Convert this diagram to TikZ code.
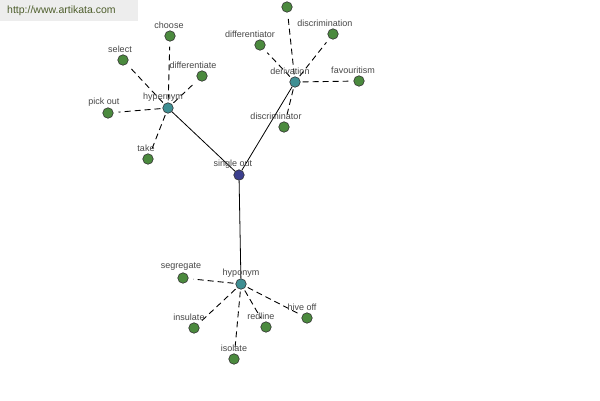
\documentclass[tikz,border=0pt]{standalone}
\usepackage{fontspec}
\setmainfont{Liberation Sans}
\begin{document}
\begin{tikzpicture}[x=1pt,y=-1pt,
  leaf/.style={circle,draw=black!80,fill=leafgreen,inner sep=0pt,minimum size=10.5pt,line width=0.6pt},
  hub/.style={circle,draw=black!80,fill=hubteal,inner sep=0pt,minimum size=10.5pt,line width=0.6pt},
  root/.style={circle,draw=black!80,fill=rootblue,inner sep=0pt,minimum size=10.5pt,line width=0.6pt},
  lbl/.style={font=\fontsize{9}{10}\selectfont,text=black!72,inner sep=0pt},
  dashlink/.style={dashed,dash pattern=on 6pt off 4pt,line width=0.9pt,shorten >=5pt,shorten <=2pt},
  solidlink/.style={line width=0.8pt}]
\definecolor{leafgreen}{HTML}{4B8A3E}
\definecolor{hubteal}{HTML}{3F8F93}
\definecolor{rootblue}{HTML}{3C3F8E}
\definecolor{urlgreen}{HTML}{4E5E2C}
\useasboundingbox (0,0) rectangle (600,400);
\fill[white] (0,0) rectangle (600,400);
\fill[black!7] (0,0) rectangle (138,21);
\node[font=\fontsize{10.5}{12}\selectfont,text=urlgreen,anchor=west,inner sep=0pt] (url) at (7,11) {http://www.artikata.com};
% hubs
\node[root] (single) at (239,175) {};
\node[hub] (hyper) at (168,108) {};
\node[hub] (deriv) at (295,82) {};
\node[hub] (hypo) at (241,284) {};
% leaves
\node[leaf] (choose) at (170,36) {};
\node[leaf] (select) at (123,60) {};
\node[leaf] (diffate) at (202,76) {};
\node[leaf] (pickout) at (108,113) {};
\node[leaf] (take) at (148,159) {};
\node[leaf] (top) at (287,7) {};
\node[leaf] (discrimination) at (333,34) {};
\node[leaf] (differentiator) at (260,45) {};
\node[leaf] (favour) at (359,81) {};
\node[leaf] (discriminator) at (284,127) {};
\node[leaf] (segregate) at (183,278) {};
\node[leaf] (insulate) at (194,328) {};
\node[leaf] (isolate) at (234,359) {};
\node[leaf] (redline) at (266,327) {};
\node[leaf] (hiveoff) at (307,318) {};
% links
\draw[solidlink] (hyper) -- (single);
\draw[solidlink] (deriv) -- (single);
\draw[solidlink] (single) -- (hypo);
\foreach \l in {choose,select,diffate,pickout,take}
  \draw[dashlink] (hyper) -- (\l);
\foreach \l in {top,discrimination,differentiator,favour,discriminator}
  \draw[dashlink] (deriv) -- (\l);
\foreach \l in {segregate,insulate,isolate,redline,hiveoff}
  \draw[dashlink] (hypo) -- (\l);
% labels
\node[lbl] (lsingle) at (233,164) {single out};
\node[lbl] (lhyper) at (163,97) {hypernym};
\node[lbl] (lderiv) at (290,71) {derivation};
\node[lbl] (lhypo) at (241,273) {hyponym};
\node[lbl] (lchoose) at (169,25) {choose};
\node[lbl] (lselect) at (120,49) {select};
\node[lbl] (ldiffate) at (193,65) {differentiate};
\node[lbl] (lpickout) at (104,102) {pick out};
\node[lbl] (ltake) at (146,148) {take};
\node[lbl] (ldiscrimination) at (325,23) {discrimination};
\node[lbl] (ldifferentiator) at (250,34) {differentiator};
\node[lbl] (lfavour) at (353,70) {favouritism};
\node[lbl] (ldiscriminator) at (276,116) {discriminator};
\node[lbl] (lsegregate) at (181,267) {segregate};
\node[lbl] (linsulate) at (189,317) {insulate};
\node[lbl] (lisolate) at (234,348) {isolate};
\node[lbl] (lredline) at (261,316) {redline};
\node[lbl] (lhiveoff) at (302,307) {hive off};
\end{tikzpicture}
\end{document}
